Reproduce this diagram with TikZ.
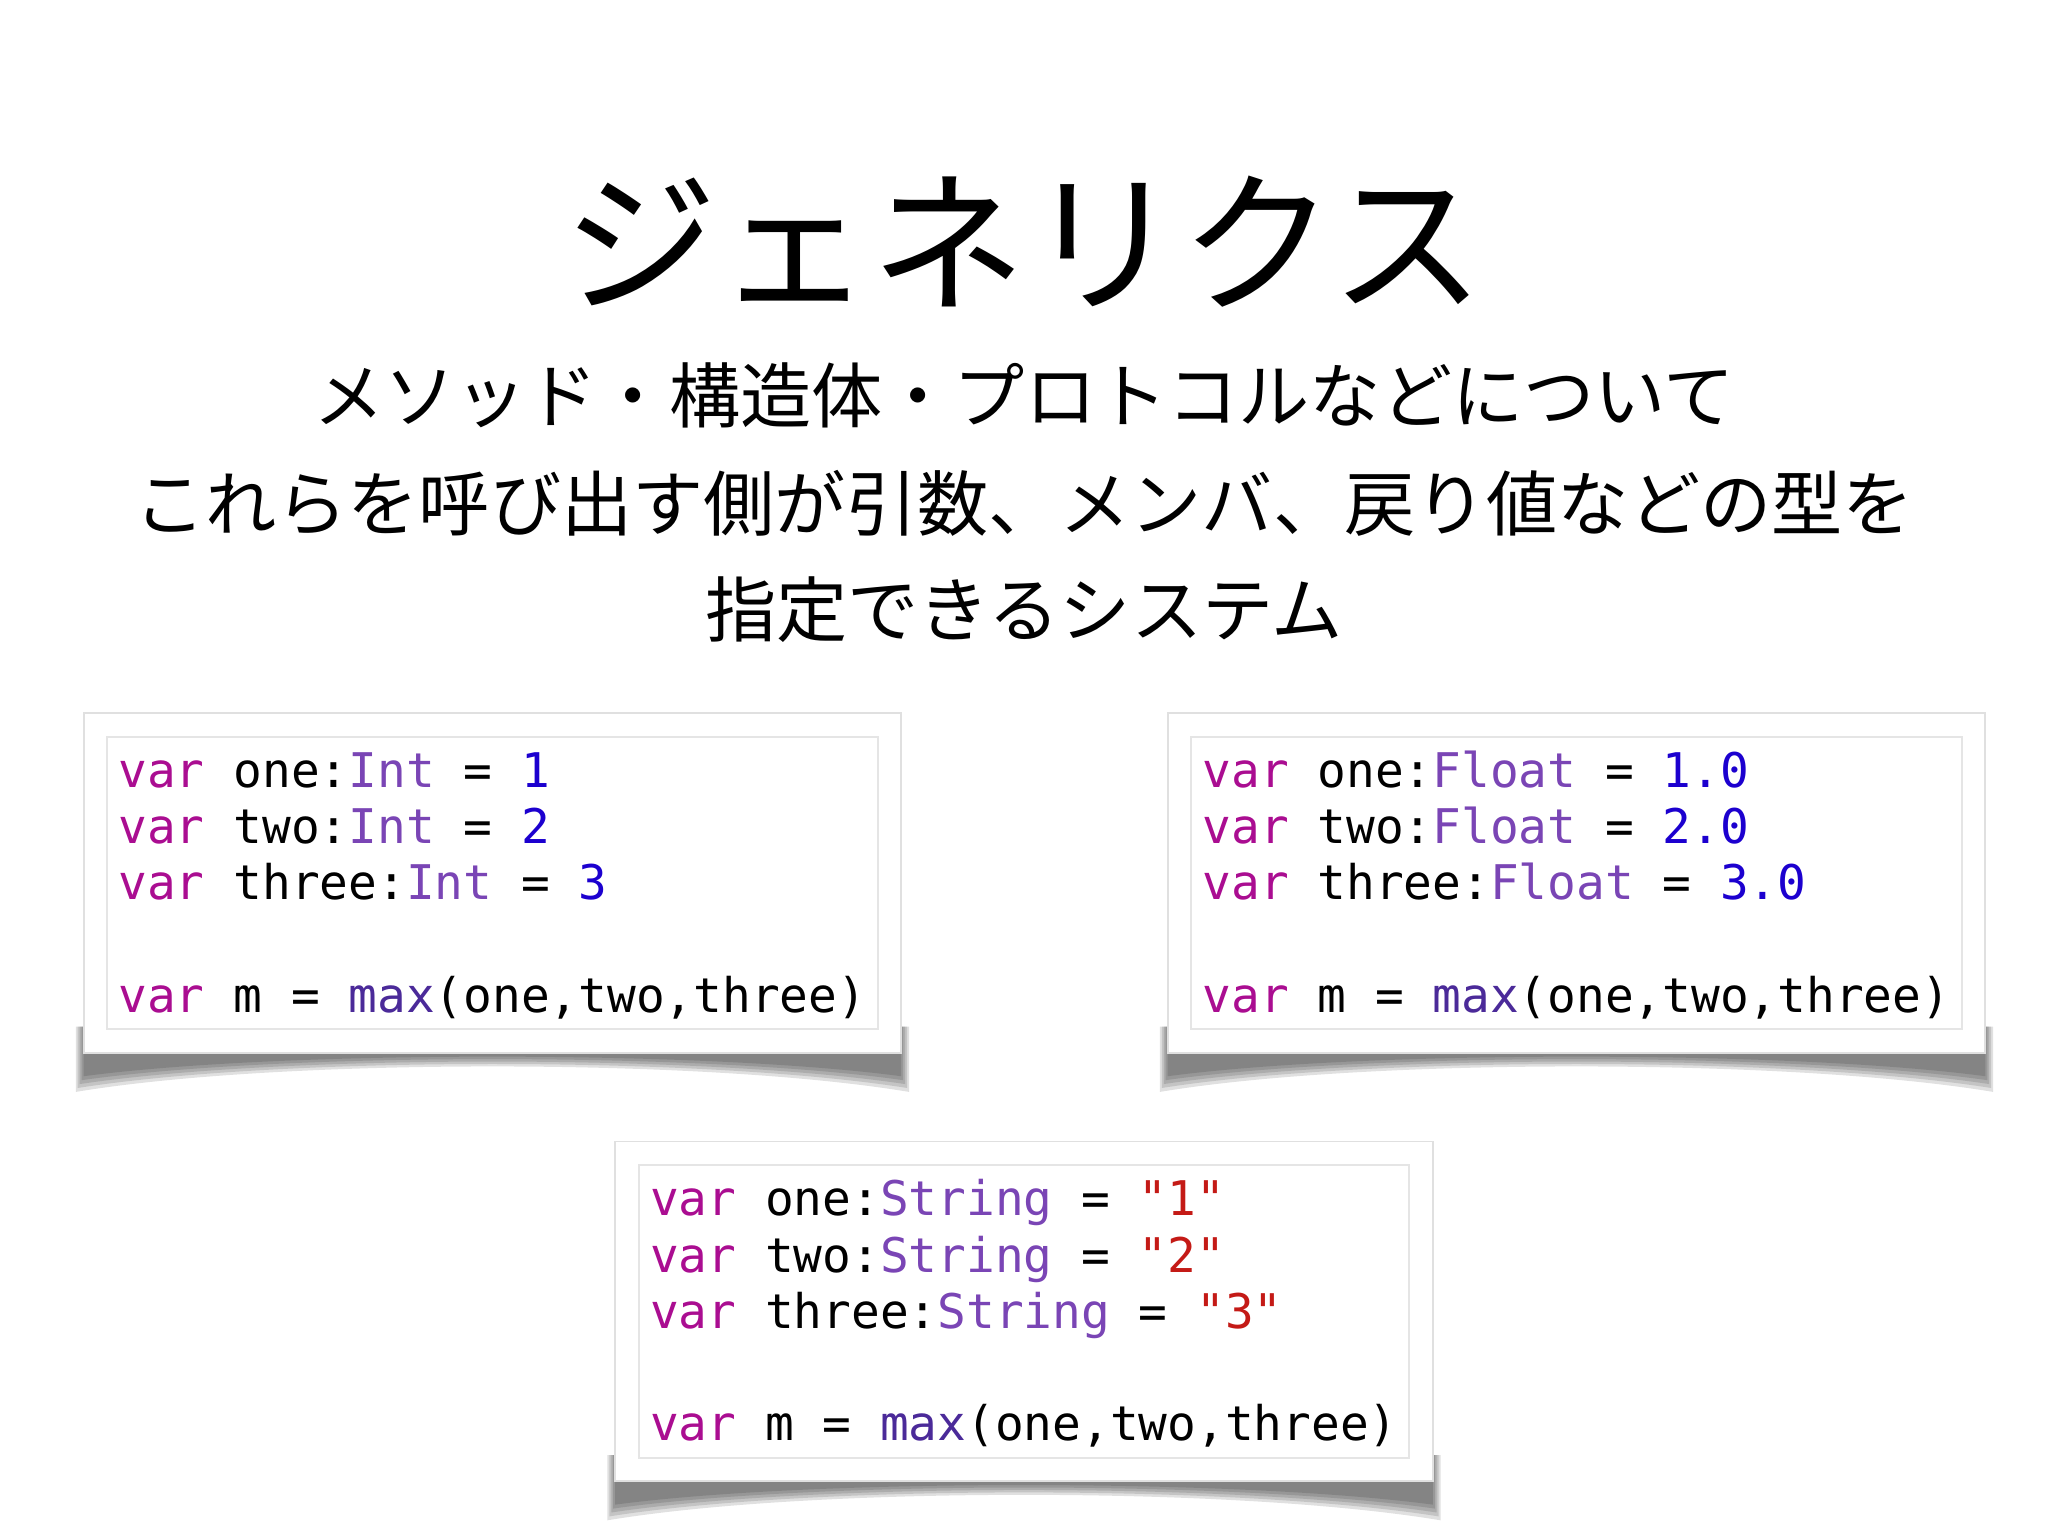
\documentclass[tikz,border=0pt]{standalone}
\usepackage{fontspec}
\setmainfont{Noto Sans CJK JP}
\newfontfamily\codef{DejaVu Sans Mono}
\definecolor{kw}{HTML}{AA0D91}
\definecolor{ty}{HTML}{7A45B5}
\definecolor{fn}{HTML}{4B2A99}
\definecolor{nm}{HTML}{1C00CF}
\definecolor{st}{HTML}{C41A16}
\begin{document}
\begin{tikzpicture}[x=0.01cm,y=-0.01cm,
  code/.style={anchor=base west,inner sep=0,font=\codef\fontsize{10.4pt}{12pt}\selectfont},
  sub/.style={font=\fontsize{15.5pt}{18pt}\selectfont,inner sep=0},
  outer/.style={fill=white,draw=black!12,line width=0.4pt},
  inner/.style={draw=black!10,line width=0.4pt,fill=white},
  shad/.style={fill=black,opacity=0.12}]
\useasboundingbox (0,0) rectangle (1568,1176);
\fill[white] (0,0) rectangle (1568,1176);
\newcommand\mybox[2]{%
  \begin{scope}[shift={(#1,#2)}]
  \foreach \d in {0,3,6,9,12}{
    \fill[shad] (-6+\d/2,240) -- (632-\d/2,240) -- (632-\d/2,290-\d) .. controls (476,264-\d/2) and (150,264-\d/2) .. (-6+\d/2,290-\d) -- cycle;
  }
  \path[outer] (0,0) rectangle (626,260);
  \path[inner] (18,18) rectangle (608,242);
  \end{scope}}
\node[font=\fontsize{33.6pt}{36pt}\selectfont,inner sep=0] (title) at (784,185) {ジェネリクス};
\node[sub] (s1) at (784,303) {メソッド・構造体・プロトコルなどについて};
\node[sub] (s2) at (784,385) {これらを呼び出す側が引数、メンバ、戻り値などの型を};
\node[sub] (s3) at (784,467) {指定できるシステム};
\mybox{64}{546}
\mybox{894}{546}
\mybox{471}{874}
% box a
\node[code] (a1) at (90,603) {\textcolor{kw}{var} one:\textcolor{ty}{Int} = \textcolor{nm}{1}};
\node[code] (a2) at (90,646) {\textcolor{kw}{var} two:\textcolor{ty}{Int} = \textcolor{nm}{2}};
\node[code] (a3) at (90,689) {\textcolor{kw}{var} three:\textcolor{ty}{Int} = \textcolor{nm}{3}};
\node[code] (a4) at (90,775) {\textcolor{kw}{var} m = \textcolor{fn}{max}(one,two,three)};
% box b
\node[code] (b1) at (920,603) {\textcolor{kw}{var} one:\textcolor{ty}{Float} = \textcolor{nm}{1.0}};
\node[code] (b2) at (920,646) {\textcolor{kw}{var} two:\textcolor{ty}{Float} = \textcolor{nm}{2.0}};
\node[code] (b3) at (920,689) {\textcolor{kw}{var} three:\textcolor{ty}{Float} = \textcolor{nm}{3.0}};
\node[code] (b4) at (920,775) {\textcolor{kw}{var} m = \textcolor{fn}{max}(one,two,three)};
% box c
\node[code] (c1) at (497,931) {\textcolor{kw}{var} one:\textcolor{ty}{String} = \textcolor{st}{"1"}};
\node[code] (c2) at (497,974) {\textcolor{kw}{var} two:\textcolor{ty}{String} = \textcolor{st}{"2"}};
\node[code] (c3) at (497,1017) {\textcolor{kw}{var} three:\textcolor{ty}{String} = \textcolor{st}{"3"}};
\node[code] (c4) at (497,1103) {\textcolor{kw}{var} m = \textcolor{fn}{max}(one,two,three)};
\end{tikzpicture}
\end{document}
